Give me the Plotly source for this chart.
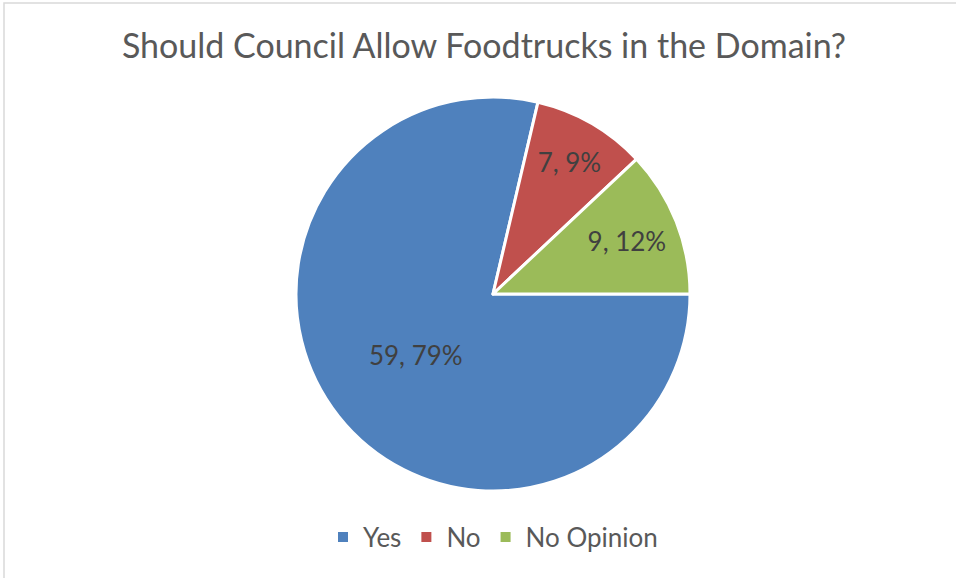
import plotly.graph_objects as go

# Survey responses
categories = ["Yes", "No", "No Opinion"]
counts = [59, 7, 9]
colors = ["#4F81BD", "#C0504D", "#9BBB59"]

W, H = 956, 578
FONT = "Lato, Open Sans, sans-serif"

fig = go.Figure(
    go.Pie(
        labels=categories,
        values=counts,
        sort=False,
        direction="clockwise",
        rotation=90,
        marker=dict(colors=colors, line=dict(color="white", width=3)),
        texttemplate="%{value}, %{percent:.0%}",
        textposition="inside",
        insidetextorientation="horizontal",
        textfont=dict(family=FONT, size=26, color="#404040"),
        hoverinfo="label+value+percent",
        domain=dict(x=[296 / W, 690 / W], y=[1 - 491 / H, 1 - 97 / H]),
    )
)

fig.update_layout(
    width=W,
    height=H,
    margin=dict(l=0, r=0, t=0, b=0),
    paper_bgcolor="white",
    title=dict(
        text="Should Council Allow Foodtrucks in the Domain?",
        x=484 / W,
        xanchor="center",
        y=1 - 46 / H,
        yanchor="middle",
        font=dict(family=FONT, size=34, color="#595959"),
    ),
    legend=dict(
        orientation="h",
        x=493 / W,
        xanchor="center",
        y=1 - 537 / H,
        yanchor="middle",
        font=dict(family=FONT, size=26, color="#595959"),
        itemsizing="constant",
        traceorder="normal",
    ),
    shapes=[
        dict(
            type="rect",
            xref="paper",
            yref="paper",
            x0=4 / W,
            x1=1.05,
            y0=-0.05,
            y1=1 - 3 / H,
            line=dict(color="#D9D9D9", width=1.5),
            fillcolor="rgba(0,0,0,0)",
            layer="below",
        )
    ],
)

fig.write_html("out.html")
